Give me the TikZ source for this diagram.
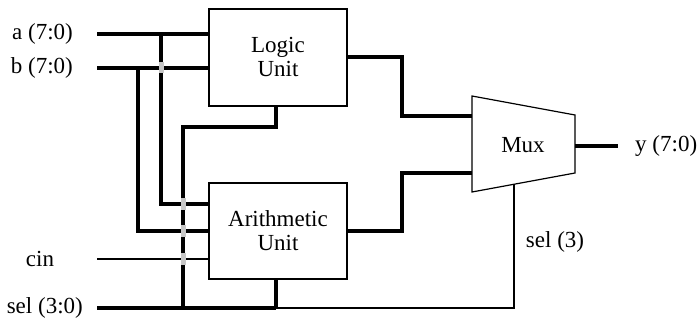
\documentclass[tikz,border=0pt]{standalone}
\usepackage{fontspec}
\setmainfont{Liberation Serif}
\usetikzlibrary{positioning,calc}

\tikzset{
  unitbox/.style={draw,line width=1.2pt,minimum width=138pt,minimum height=97pt,align=center,inner sep=0pt},
  bus/.style={line width=4pt},
  wire/.style={line width=1.2pt},
  pinlabel/.style={inner sep=0pt},
  crossmark/.style={fill=black!22,draw=none}
}

\begin{document}
\begin{tikzpicture}[x=1pt,y=-1pt,font=\fontsize{23}{24}\selectfont]
	\useasboundingbox (0,0) rectangle (698,320);
	% units
	\node[unitbox] (lu) at (278,57.5) {Logic\\Unit};
	\node[unitbox,minimum height=96pt] (au) at (278,231) {Arithmetic\\Unit};
	% mux
	\coordinate (mtl) at (472,96);
	\coordinate (mtr) at (575,115);
	\coordinate (mbr) at (575,173);
	\coordinate (mbl) at (472,192);
	\draw[wire,line join=miter] (mtl) -- (mtr) -- (mbr) -- (mbl) -- cycle;
	\node (mux) at (523,145) {Mux};
	\coordinate (mi0) at (472,116);
	\coordinate (mi1) at (472,173);
	\coordinate (mo) at (575,146);
	\coordinate (ms) at ($(mbl)!0.408!(mbr)$);
	% labels
	\node[pinlabel,anchor=east] (alab) at (73,34) {a (7:0)};
	\node[pinlabel,anchor=east] (blab) at (73,68) {b (7:0)};
	\node[pinlabel] (cinlab) at (40,259) {cin};
	\node[pinlabel,anchor=east] (sellab) at (83,308) {sel (3:0)};
	\node[pinlabel,anchor=west] (ylab) at (635,146) {y (7:0)};
	\node[pinlabel] (sel3lab) at (555,242) {sel (3)};
	% input ends
	\coordinate (ain) at (97,34);
	\coordinate (bin) at (97,68);
	\coordinate (cin) at (97,259);
	\coordinate (selin) at (97,308);
	\coordinate (yout) at (618,146);
	\coordinate (lusel) at (276,0 |- lu.south);
	\coordinate (ausel) at (276,0 |- au.south);
	% inputs
	\draw[bus] (ain) -- (ain -| lu.west);
	\draw[bus] (bin) -- (bin -| lu.west);
	\draw[bus] (161,34) -- (161,204) -- (au.west |- 0,204);
	\draw[bus] (138,68) -- (138,231) -- (au.west);
	\draw[wire] (cin) -- (cin -| au.west);
	% sel
	\draw[bus] (lusel) -- (276,127) -- (183,127) -- (183,308);
	\draw[bus] (ausel) -- (276,308);
	\draw[bus] (selin) -- (276,308);
	\draw[wire] (276,308) -| (ms);
	% outputs
	\draw[bus] (lu.east |- 0,57) -- (402,57) |- (mi0);
	\draw[bus] (au.east) -- (402,231) |- (mi1);
	\draw[bus] (mo) -- (yout);
	% crossings
	\fill[crossmark] (158.5,62.5) rectangle (163.5,73.5);
	\foreach \y in {204,231,259}
		\fill[crossmark] (180.5,\y-6) rectangle (185.5,\y+6);
\end{tikzpicture}
\end{document}
